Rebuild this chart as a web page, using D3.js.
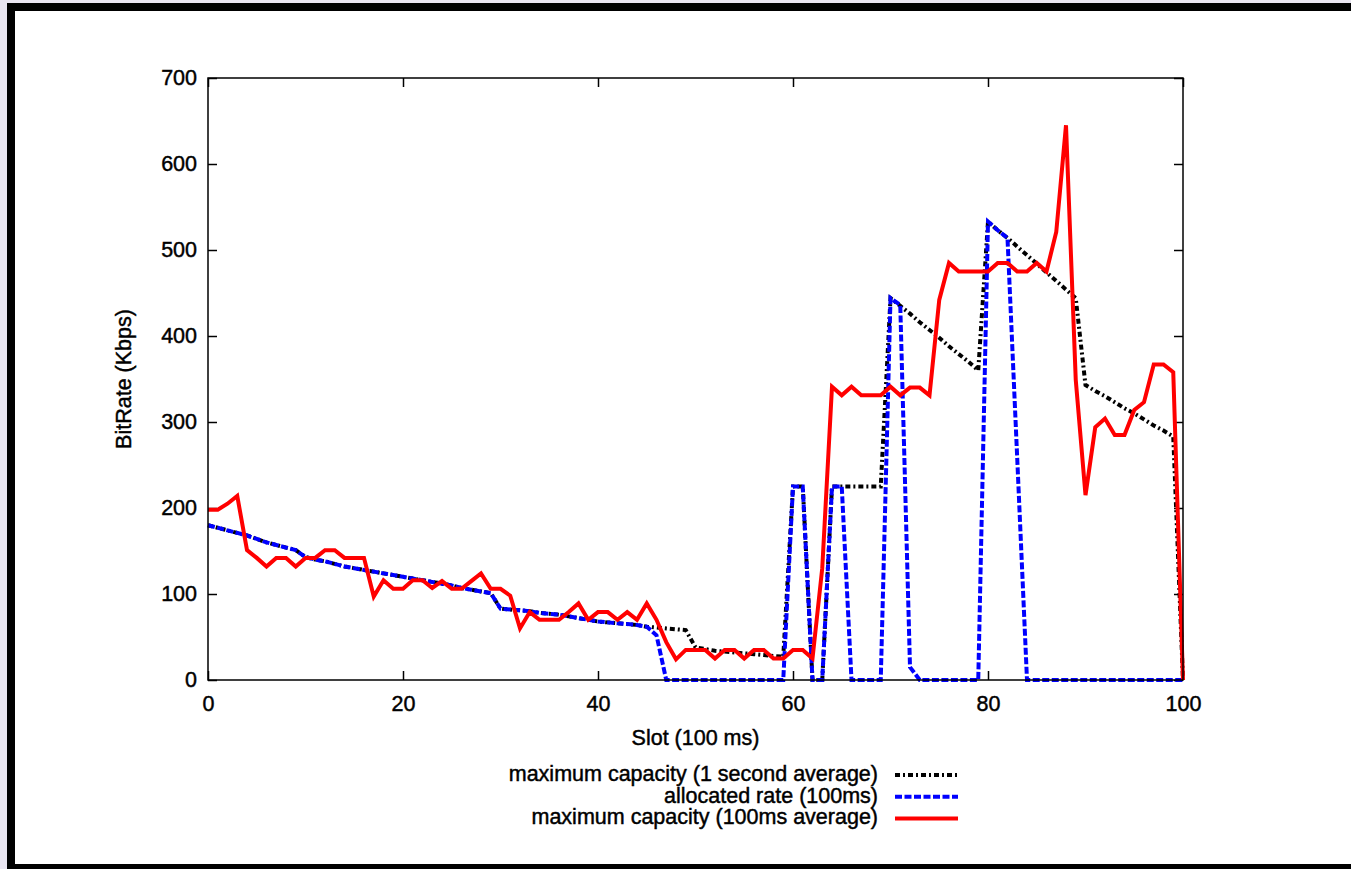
<!DOCTYPE html>
<html>
<head>
<meta charset="utf-8">
<script src="https://cdn.jsdelivr.net/npm/d3@7"></script>
<style>
  html, body { margin: 0; padding: 0; background: #e9e5f1; overflow: hidden; }
  text { font-family: "Liberation Sans", Arial, Helvetica, sans-serif; fill: #000; stroke: #000; stroke-width: 0.45px; }
</style>
</head>
<body>
<svg id="chart" width="1351" height="869"></svg>
<script>
// slot numbers, 0..100 (one slot = 100 ms)
var slots = d3.range(0, 101);

// maximum capacity, 1 second average (black dash-dot)
var capacity1s = [
  180, 177, 174, 171, 168, 164, 160, 157, 154, 151,
  143, 140, 138, 135, 132, 130, 128, 126, 124, 122,
  120, 118, 116, 114, 112, 110, 107, 105, 103, 101,
  83, 82, 81, 80, 78, 77, 76, 74, 72, 70,
  68, 67, 66, 65, 64, 62, 61, 60, 59, 58,
  38, 36, 34, 33, 32, 31, 30, 29, 28, 27,
  225, 225, 0, 0, 225, 225, 225, 225, 225, 225,
  444, 435, 426, 416, 407, 398, 388, 379, 370, 360,
  533, 523, 514, 504, 494, 484, 474, 464, 454, 444,
  343, 336, 330, 323, 316, 310, 303, 296, 290, 283,
  0
];

// allocated rate, 100ms (blue dashed)
var allocated = [
  180, 177, 174, 171, 168, 164, 160, 157, 154, 151,
  143, 140, 138, 135, 132, 130, 128, 126, 124, 122,
  120, 118, 116, 114, 112, 110, 107, 105, 103, 101,
  83, 82, 81, 80, 78, 77, 76, 74, 72, 70,
  68, 67, 66, 65, 64, 62, 52, 0, 0, 0,
  0, 0, 0, 0, 0, 0, 0, 0, 0, 0,
  225, 225, 0, 0, 225, 225, 0, 0, 0, 0,
  444, 436, 15, 0, 0, 0, 0, 0, 0, 0,
  533, 523, 514, 257, 0, 0, 0, 0, 0, 0,
  0, 0, 0, 0, 0, 0, 0, 0, 0, 0,
  0
];

// maximum capacity, 100ms average (red solid)
var capacity100ms = [
  198, 198, 205, 214, 151, 142, 132, 142, 142, 132,
  142, 142, 151, 151, 142, 142, 142, 97, 116, 106,
  106, 116, 116, 107, 115, 106, 106, 115, 124, 106,
  106, 98, 60, 79, 70, 70, 70, 79, 89, 70,
  79, 79, 70, 79, 70, 89, 70, 44, 24, 35,
  35, 35, 25, 35, 35, 25, 35, 35, 25, 25,
  35, 35, 25, 130, 341, 331, 341, 331, 331, 331,
  341, 331, 340, 340, 331, 442, 485, 475, 475, 475,
  475, 485, 485, 475, 475, 485, 475, 521, 645, 349,
  215, 294, 304, 285, 285, 314, 323, 367, 367, 358,
  0
];

var xTicks = [0, 20, 40, 60, 80, 100];
var yTicks = [0, 100, 200, 300, 400, 500, 600, 700];
var seriesNames = [
  "maximum capacity (1 second average)",
  "allocated rate (100ms)",
  "maximum capacity (100ms average)"
];

var svg = d3.select("#chart");

// page frame
svg.append("rect").attr("x", 7).attr("y", 3).attr("width", 1400).attr("height", 900).attr("fill", "#000");
svg.append("rect").attr("x", 15).attr("y", 11).attr("width", 1400).attr("height", 853).attr("fill", "#fff");

var mLeft = 208, mRight = 1183, mTop = 78, mBottom = 680;

var x = d3.scaleLinear().domain([0, 100]).range([mLeft, mRight]);
var y = d3.scaleLinear().domain([0, 700]).range([mBottom, mTop]);

var fs = 21.5;

// axes, ticks pointing inward (gnuplot style)
var gx = svg.append("g").attr("transform", "translate(0," + mBottom + ")")
  .call(d3.axisBottom(x).tickValues(xTicks).tickSize(-9).tickPadding(16));
var gy = svg.append("g").attr("transform", "translate(" + mLeft + ",0)")
  .call(d3.axisLeft(y).tickValues(yTicks).tickSize(-9).tickPadding(11));
var gx2 = svg.append("g").attr("transform", "translate(0," + mTop + ")")
  .call(d3.axisTop(x).tickValues(xTicks).tickSize(-9).tickFormat(""));
var gy2 = svg.append("g").attr("transform", "translate(" + mRight + ",0)")
  .call(d3.axisRight(y).tickValues(yTicks).tickSize(-9).tickFormat(""));

[gx, gy, gx2, gy2].forEach(function (g) {
  g.select(".domain").remove();
  g.selectAll(".tick line").attr("stroke", "#000").attr("stroke-width", 1.5);
  g.selectAll("text").style("font-size", fs + "px").style("font-family", "'Liberation Sans', Arial, sans-serif");
});

// Lines
var line = function (vals) {
  return d3.line()
    .x(function (d) { return x(d) })
    .y(function (d) { return y(vals[d]) })(slots);
};

svg.append("path").attr("d", line(capacity1s))
  .attr("fill", "none").attr("stroke", "#000").attr("stroke-width", 4)
  .attr("stroke-dasharray", "5,3,2,3");
svg.append("path").attr("d", line(allocated))
  .attr("fill", "none").attr("stroke", "#0000ff").attr("stroke-width", 4)
  .attr("stroke-dasharray", "7,2.5");
svg.append("path").attr("d", line(capacity100ms))
  .attr("fill", "none").attr("stroke", "#ff0000").attr("stroke-width", 4)
  .attr("stroke-linejoin", "miter");

// plot border
svg.append("rect").attr("x", mLeft).attr("y", mTop)
  .attr("width", mRight - mLeft).attr("height", mBottom - mTop)
  .attr("fill", "none").attr("stroke", "#000").attr("stroke-width", 1.5);

// axis labels
svg.append("text").attr("x", (mLeft + mRight) / 2).attr("y", 745)
  .attr("text-anchor", "middle").style("font-size", fs + "px").text("Slot (100 ms)");
svg.append("text").attr("transform", "translate(131," + (mTop + mBottom) / 2 + ") rotate(-90)")
  .attr("text-anchor", "middle").style("font-size", fs + "px").text("BitRate (Kbps)");

// legend
var styles = [
  { c: "#000", d: "5,3,2,3" },
  { c: "#0000ff", d: "7,2.5" },
  { c: "#ff0000", d: null }
];
var lg = svg.append("g");
seriesNames.forEach(function (name, i) {
  var ly = 775 + i * 21.7;
  lg.append("text").attr("x", 878).attr("y", ly + 6)
    .attr("text-anchor", "end").style("font-size", fs + "px").text(name);
  lg.append("line").attr("x1", 895).attr("x2", 958).attr("y1", ly).attr("y2", ly)
    .attr("stroke", styles[i].c).attr("stroke-width", 4)
    .attr("stroke-dasharray", styles[i].d);
});
</script>
</body>
</html>
